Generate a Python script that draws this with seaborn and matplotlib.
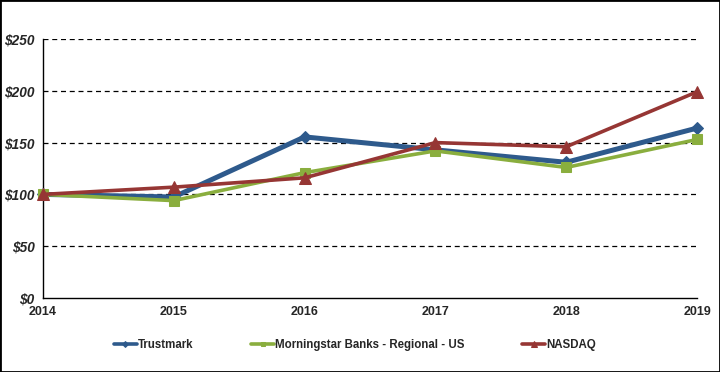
import pandas as pd
import numpy as np
import matplotlib.pyplot as plt
import seaborn as sns

# Données
years = [2014, 2015, 2016, 2017, 2018, 2019]
trustmark = [100, 97.5, 155.5, 143, 131, 164]
morningstar = [100, 94, 121, 142, 126, 153]
nasdaq = [100, 107, 116, 150, 146, 199]
series_names = ['Trustmark', 'Morningstar Banks - Regional - US', 'NASDAQ']
y_ticks = [0, 50, 100, 150, 200, 250]

df = pd.DataFrame({
    'year': years * 3,
    'value': trustmark + morningstar + nasdaq,
    'series': np.repeat(series_names, len(years)),
})

sns.set_style('white')
plt.rcParams['font.family'] = ['Liberation Sans', 'DejaVu Sans']

colors = {'Trustmark': '#2E5A8C', 'Morningstar Banks - Regional - US': '#8AAE3E',
          'NASDAQ': '#963634'}
markers = {'Trustmark': 'D', 'Morningstar Banks - Regional - US': 's', 'NASDAQ': '^'}
widths = {'Trustmark': 3.6, 'Morningstar Banks - Regional - US': 2.6, 'NASDAQ': 2.6}
msizes = {'Trustmark': 6, 'Morningstar Banks - Regional - US': 7, 'NASDAQ': 8.5}

fig = plt.figure(figsize=(7.2, 3.72), dpi=100)
ax = fig.add_axes([43 / 720, 1 - 298 / 372, (697 - 43) / 720, (298 - 39) / 372])

for name in series_names:
    sub = df[df['series'] == name]
    sns.lineplot(data=sub, x='year', y='value', ax=ax, color=colors[name],
                 marker=markers[name], markersize=msizes[name], linewidth=widths[name],
                 markeredgecolor=colors[name], label=name, clip_on=False, zorder=3)

ax.set_xlim(2014, 2019)
ax.set_ylim(0, 250)
ax.set_xticks(years)
ax.set_xticklabels([str(y) for y in years], fontsize=9, fontweight='bold')
ax.set_yticks(y_ticks)
ax.set_yticklabels([f'${v}' for v in y_ticks], fontsize=9.8, fontweight='bold', style='italic')
ax.set_xlabel('')
ax.set_ylabel('')

for v in y_ticks[1:]:
    ax.axhline(v, color='black', linestyle=(0, (4, 3)), linewidth=0.9, zorder=0)

for side in ['top', 'right']:
    ax.spines[side].set_visible(False)
for side in ['left', 'bottom']:
    ax.spines[side].set_color('black')
    ax.spines[side].set_linewidth(1.0)
ax.tick_params(axis='both', direction='out', length=4, width=1, color='black', pad=2)

leg = ax.legend(loc='center', bbox_to_anchor=(0.477, -0.18), ncol=3, frameon=False,
                prop={'weight': 'bold', 'size': 8.3}, handlelength=2.0, handletextpad=0.1,
                columnspacing=5.0, markerscale=0.5)
for line in leg.get_lines():
    line.set_linewidth(2.6)

fig.patches.append(plt.Rectangle((0, 0), 1, 1, transform=fig.transFigure, fill=False,
                                 edgecolor='black', linewidth=2))

plt.savefig('out.png', dpi=100)
